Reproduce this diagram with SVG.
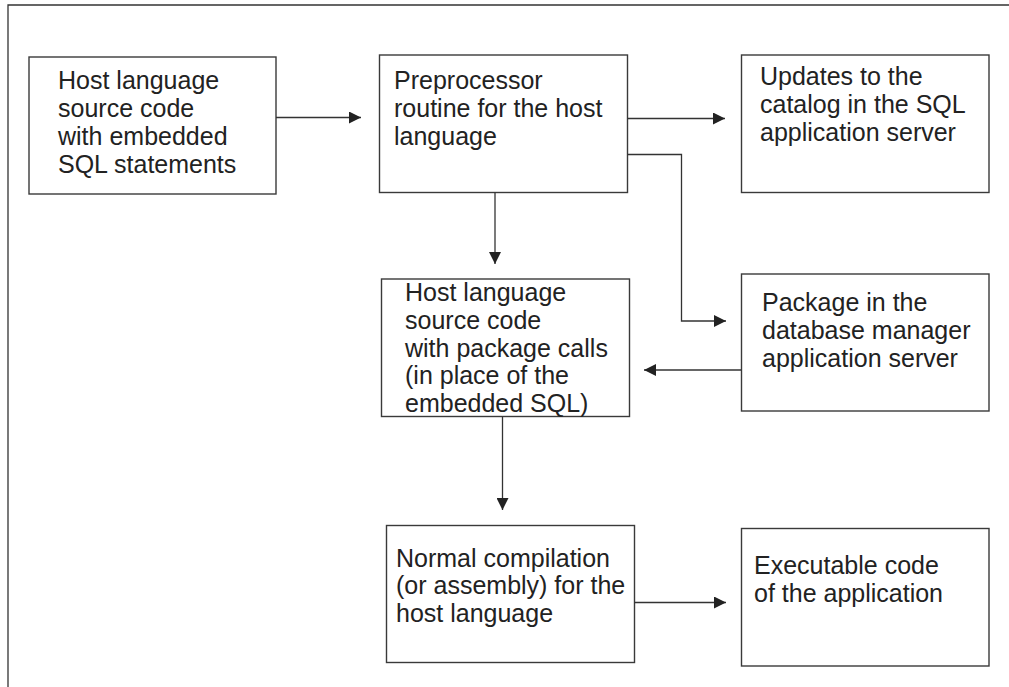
<svg xmlns="http://www.w3.org/2000/svg" width="1009" height="687" viewBox="0 0 1009 687">
<style>
.box{fill:#fff;stroke:#3a3a3a;stroke-width:1.4}
.lbl{font-family:"Liberation Sans",Arial,sans-serif;font-size:25px;fill:#222}
.con{fill:none;stroke:#333;stroke-width:1.3}
</style>
<defs>
<marker id="ah" markerWidth="12" markerHeight="12" refX="12" refY="6" orient="auto" markerUnits="userSpaceOnUse">
<path d="M0,0 L12,6 L0,12 Z" fill="#222"/>
</marker>
</defs>
<rect width="1009" height="687" fill="#fff"/>
<path d="M8,687 V5 H1009" fill="none" stroke="#333" stroke-width="1.3"/>
<g id="n1">
<rect class="box" x="29" y="57" width="247" height="137"/>
<text class="lbl" x="58" y="89">Host language</text>
<text class="lbl" x="58" y="117">source code</text>
<text class="lbl" x="58" y="145">with embedded</text>
<text class="lbl" x="58" y="173">SQL statements</text>
</g>
<g id="n2">
<rect class="box" x="379.5" y="55" width="248" height="137.5"/>
<text class="lbl" x="394" y="89">Preprocessor</text>
<text class="lbl" x="394" y="117">routine for the host</text>
<text class="lbl" x="394" y="145">language</text>
</g>
<g id="n3">
<rect class="box" x="741.5" y="55" width="247.5" height="137.5"/>
<text class="lbl" x="760" y="85">Updates to the</text>
<text class="lbl" x="760" y="113">catalog in the SQL</text>
<text class="lbl" x="760" y="141">application server</text>
</g>
<g id="n4">
<rect class="box" x="741.5" y="274" width="247.5" height="137"/>
<text class="lbl" x="762" y="311">Package in the</text>
<text class="lbl" x="762" y="339">database manager</text>
<text class="lbl" x="762" y="367">application server</text>
</g>
<g id="n5">
<rect class="box" x="381.5" y="279" width="248" height="137.5"/>
<text class="lbl" x="405" y="301">Host language</text>
<text class="lbl" x="405" y="329">source code</text>
<text class="lbl" x="405" y="357">with package calls</text>
<text class="lbl" x="405" y="384">(in place of the</text>
<text class="lbl" x="405" y="412">embedded SQL)</text>
</g>
<g id="n6">
<rect class="box" x="386.5" y="525.5" width="248" height="137"/>
<text class="lbl" x="396" y="567">Normal compilation</text>
<text class="lbl" x="396" y="594">(or assembly) for the</text>
<text class="lbl" x="396" y="622">host language</text>
</g>
<g id="n7">
<rect class="box" x="741.5" y="528.5" width="247.5" height="137.5"/>
<text class="lbl" x="754" y="574">Executable code</text>
<text class="lbl" x="754" y="602">of the application</text>
</g>
<g id="connectors">
<path class="con" d="M276,117.5 H361" marker-end="url(#ah)"/>
<path class="con" d="M627.5,118.5 H725" marker-end="url(#ah)"/>
<path class="con" d="M627.5,154.5 H681.5 V321 H726" marker-end="url(#ah)"/>
<path class="con" d="M741.5,370 H644" marker-end="url(#ah)"/>
<path class="con" d="M495,192.5 V264" marker-end="url(#ah)"/>
<path class="con" d="M502.5,416.5 V510" marker-end="url(#ah)"/>
<path class="con" d="M634.5,602.5 H726" marker-end="url(#ah)"/>
</g>
</svg>
